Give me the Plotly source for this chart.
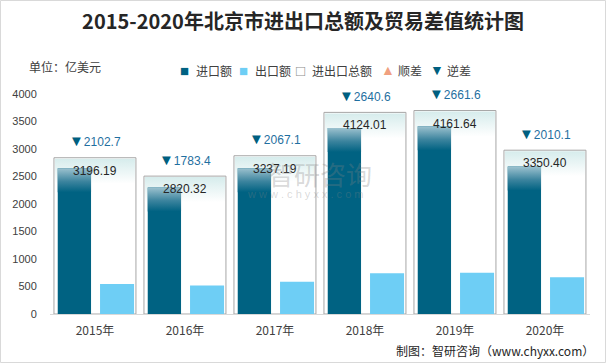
import plotly.graph_objects as go

# ---------------- data ----------------
years = ["2015年", "2016年", "2017年", "2018年", "2019年", "2020年"]
imports = [2649.45, 2301.86, 2652.15, 3382.31, 3411.62, 2680.25]
exports = [546.74, 518.46, 585.04, 741.70, 750.02, 670.15]
totals = [3196.19, 2820.32, 3237.19, 4124.01, 4161.64, 3350.40]
total_labels = ["3196.19", "2820.32", "3237.19", "4124.01", "4161.64", "3350.40"]
deficits = [2102.7, 1783.4, 2067.1, 2640.6, 2661.6, 2010.1]
surplus = [None, None, None, None, None, None]
y_ticks = [0, 500, 1000, 1500, 2000, 2500, 3000, 3500, 4000]

# ---------------- style ----------------
C_IMP = "#006282"
C_IMP_TOP = "#9DC2CF"
C_EXP = "#6ECEF5"
C_BOX = "#A6A6A6"
C_SUR = "#F0A080"
C_DEF = "#005F80"
C_DEF_TXT = "#1F6FA0"
FONT = "Liberation Sans, Noto Sans CJK SC, sans-serif"
CJK = "Noto Sans CJK SC, sans-serif"

W, H = 606, 363
ML, MR, MT, MB = 50, 16, 94, 49
PW, PH = W - ML - MR, H - MT - MB

def px(x):
    return (x - ML) / PW

def py(y):
    return (MT + PH - y) / PH

idx = list(range(len(years)))

BOX_OFF, BOX_W = -0.456, 0.911
IMP_OFF, IMP_W = -0.414, 0.37
EXP_OFF, EXP_W = 0.056, 0.378
TOT_MAX = 4500  # hidden axis for total boxes
IMP_MAX = 4000

fig = go.Figure()

# total boxes (primary hidden axis)
fig.add_trace(go.Bar(
    x=idx, y=totals, width=BOX_W, offset=BOX_OFF, yaxis="y",
    marker=dict(color="white", line=dict(color=C_BOX, width=1)),
    showlegend=False, hoverinfo="skip"))

# gradient caps inside total boxes
u_tot = TOT_MAX / PH  # data units per pixel
for i, t in enumerate(totals):
    x0 = i + BOX_OFF + 1.0 / 90
    x1 = i + BOX_OFF + BOX_W - 1.0 / 90
    yt = t - 1.0 * u_tot
    yb = t - 26 * u_tot
    fig.add_trace(go.Scatter(
        x=[x0, x1, x1, x0, x0], y=[yb, yb, yt, yt, yb], yaxis="y",
        mode="lines", line=dict(width=0), fill="toself",
        fillgradient=dict(type="vertical", start=yb, stop=yt,
                          colorscale=[[0, "rgba(255,255,255,1)"], [1, "#D6ECEC"]]),
        showlegend=False, hoverinfo="skip"))

# import / export bars (overlaying visible axis)
fig.add_trace(go.Bar(
    x=idx, y=imports, width=IMP_W, offset=IMP_OFF, yaxis="y2",
    marker=dict(color=C_IMP, line=dict(width=0)), name="进口额",
    showlegend=False, hoverinfo="skip"))
fig.add_trace(go.Bar(
    x=idx, y=exports, width=EXP_W, offset=EXP_OFF, yaxis="y2",
    marker=dict(color=C_EXP, line=dict(width=0)), name="出口额",
    showlegend=False, hoverinfo="skip"))

u_imp = IMP_MAX / PH
for i, v in enumerate(imports):
    x0 = i + IMP_OFF
    x1 = i + IMP_OFF + IMP_W
    yt = v
    yb = v - 24 * u_imp
    fig.add_trace(go.Scatter(
        x=[x0, x1, x1, x0, x0], y=[yb, yb, yt, yt, yb], yaxis="y2",
        mode="lines", line=dict(width=0), fill="toself",
        fillgradient=dict(type="vertical", start=yb, stop=yt,
                          colorscale=[[0, C_IMP], [0.45, "#3C849E"], [1, C_IMP_TOP]]),
        showlegend=False, hoverinfo="skip"))

# surplus series (no surplus years) kept for completeness
fig.add_trace(go.Scatter(x=idx, y=surplus, yaxis="y", mode="markers",
                         marker=dict(symbol="triangle-up", color=C_SUR),
                         showlegend=False, hoverinfo="skip"))

annotations = []
# total labels and deficit labels
for i, (t, lab, d) in enumerate(zip(totals, total_labels, deficits)):
    annotations.append(dict(
        x=i, y=t, xref="x", yref="y", text=lab, showarrow=False,
        yshift=-13, yanchor="middle", xanchor="center",
        font=dict(family=FONT, size=12, color="#262626")))
    annotations.append(dict(
        x=i, y=t, xref="x", yref="y",
        text=f"<span style='color:{C_DEF};font-size:15px'>▼</span>{d:.1f}",
        showarrow=False,
        yshift=17, yanchor="middle", xanchor="center",
        font=dict(family=FONT, size=12, color=C_DEF_TXT)))

# custom legend
legend_items = [
    (184, "■", C_IMP, 194, "进口额", 15),
    (243, "■", C_EXP, 253, "出口额", 15),
    (300, "□", "#8C8C8C", 310, "进出口总额", 15),
    (388, "▲", C_SUR, 396, "顺差", 14),
    (437, "▼", C_DEF, 445, "逆差", 14),
]
for sx, sym, col, tx, txt, fs in legend_items:
    annotations.append(dict(
        x=px(sx), y=py(70), xref="paper", yref="paper", text=sym,
        showarrow=False, xanchor="center", yanchor="middle",
        font=dict(family=FONT, size=fs, color=col)))
    annotations.append(dict(
        x=px(tx), y=py(70), xref="paper", yref="paper", text=txt,
        showarrow=False, xanchor="left", yanchor="middle",
        font=dict(family=CJK, size=12, color="#404040")))

# unit label
annotations.append(dict(
    x=px(27), y=py(67), xref="paper", yref="paper", text="单位：亿美元",
    showarrow=False, xanchor="left", yanchor="middle",
    font=dict(family=CJK, size=12, color="#404040")))

# watermark
annotations.append(dict(
    x=px(320), y=py(173), xref="paper", yref="paper", text="智研咨询",
    showarrow=False, xanchor="center", yanchor="middle",
    font=dict(family=CJK, size=26, color="rgba(130,130,130,0.3)")))
annotations.append(dict(
    x=px(305), y=py(194), xref="paper", yref="paper",
    text="w w w . c h y x x . c o m",
    showarrow=False, xanchor="center", yanchor="middle",
    font=dict(family=FONT, size=11, color="rgba(130,130,130,0.3)")))

# footer
annotations.append(dict(
    x=px(596), y=py(350), xref="paper", yref="paper",
    text="制图：智研咨询（www.chyxx.com）",
    showarrow=False, xanchor="right", yanchor="middle",
    font=dict(family=CJK, size=12, color="#262626")))

fig.update_layout(
    width=W, height=H,
    margin=dict(l=ML, r=MR, t=MT, b=MB, pad=0),
    paper_bgcolor="white", plot_bgcolor="white",
    barmode="overlay",
    showlegend=False,
    title=dict(text="<b>2015-2020年北京市进出口总额及贸易差值统计图</b>",
               x=0.5, xanchor="center", y=1 - 22 / H, yanchor="middle",
               yref="container",
               font=dict(family=CJK, size=20, color="#262626")),
    xaxis=dict(type="linear", range=[-0.5, 5.5], tickvals=idx, ticktext=years,
               showline=True, linecolor="#D9D9D9", linewidth=1,
               showgrid=False, zeroline=False,
               ticks="outside", ticklen=6, tickcolor="rgba(0,0,0,0)",
               tickfont=dict(family=CJK, size=12, color="#404040"),
               fixedrange=True),
    yaxis=dict(range=[0, TOT_MAX], visible=False, fixedrange=True),
    yaxis2=dict(range=[0, IMP_MAX], overlaying="y", side="left", anchor="x",
                tickvals=y_ticks, showgrid=False, zeroline=False, showline=False,
                ticks="outside", ticklen=10, tickcolor="rgba(0,0,0,0)",
                tickfont=dict(family=FONT, size=11, color="#404040"),
                fixedrange=True),
    annotations=annotations,
    shapes=[dict(type="rect", xref="paper", yref="paper",
                 x0=px(0.5), x1=px(W - 0.5), y0=py(H - 0.5), y1=py(0.5),
                 line=dict(color="#D9D9D9", width=1), fillcolor="rgba(0,0,0,0)",
                 layer="below")],
)

fig.write_html(
    "out.html",
    config={"displayModeBar": False},
    post_script="document.body.style.margin='0';document.body.style.overflow='hidden';",
)
